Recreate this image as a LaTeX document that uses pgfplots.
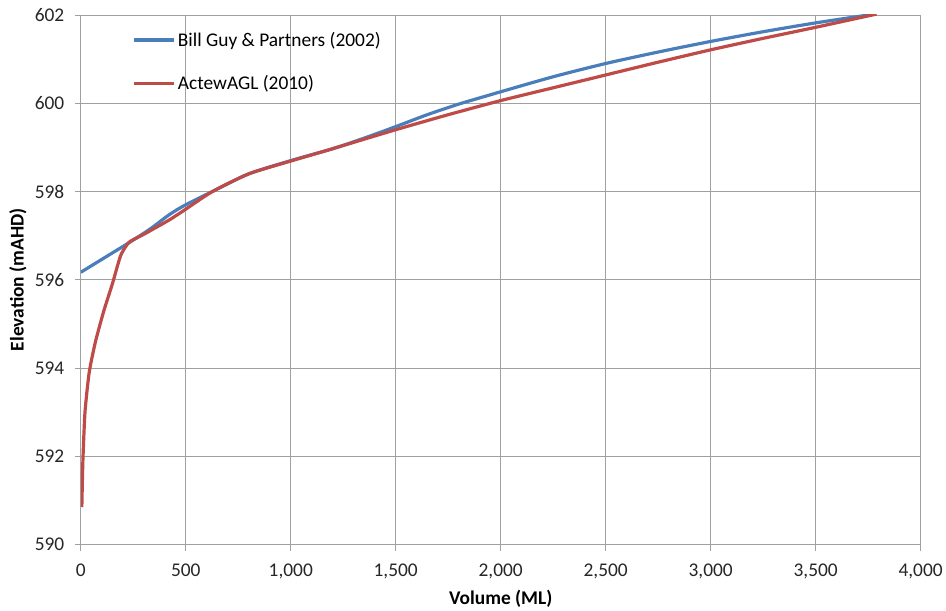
\documentclass[border=0pt]{standalone}
\usepackage{pgfplots}
\pgfplotsset{compat=1.18}
\usepackage{fontspec}
\setmainfont{Carlito}
\definecolor{bluel}{HTML}{4A7EBB}
\definecolor{redl}{HTML}{BE4B48}
\definecolor{gridc}{HTML}{A0A0A0}
\begin{document}
\begin{tikzpicture}
\begin{axis}[
  scale only axis, width=842bp, height=531bp,
  xmin=0, xmax=4000, ymin=590, ymax=602,
  xtick={0,500,...,4000}, ytick={590,592,...,602},
  grid=major, grid style={gridc, line width=0.9bp},
  axis line style={gridc, line width=0.9bp},
  tick style={gridc, line width=0.9bp},
  tick align=outside, major tick length=6bp,
  xtick pos=left, ytick pos=left,
  scaled ticks=false,
  /pgf/number format/1000 sep={,},
  /pgf/number format/assume math mode=true,
  ticklabel style={font=\fontsize{19.5}{22}\selectfont, text=black!85},
  yticklabel style={xshift=-7bp},
  xticklabel style={yshift=-10bp},
  every axis x label/.style={at={(axis description cs:0.5,-0.1017)}, anchor=center},
  every axis y label/.style={at={(axis description cs:-0.0748,0.5)}, anchor=center, rotate=90},
  label style={font=\fontsize{19.5}{22}\selectfont\bfseries},
  xlabel={Volume (ML)},
  ylabel={Elevation (mAHD)},
  legend style={draw=none, fill=none, at={(rel axis cs:0,1)}, anchor=north west,
    xshift=50bp, yshift=-13bp, row sep=24bp, font=\fontsize{19.5}{22}\selectfont,
    inner sep=2bp},
  legend cell align=left,
  legend image code/.code={\draw[#1] (0bp,0bp) -- (40bp,0bp);},
]
\addplot[bluel, line width=3.2bp, smooth, tension=0.45] coordinates {
(0,596.17) (120,596.52) (233,596.85) (330,597.15) (423,597.48) (500,597.70)
(627,598.0) (800,598.4) (1000,598.7) (1200,598.97) (1350,599.21) (1500,599.47)
(1650,599.74) (1800,599.98) (1950,600.19) (2000,600.26) (2250,600.6) (2500,600.9)
(2750,601.16) (3000,601.4) (3250,601.62) (3500,601.82) (3780,602.02)
};
\addlegendentry{Bill Guy \& Partners (2002)}
\addplot[redl, line width=3.2bp, smooth, tension=0.35] coordinates {
(5,590.85) (10,591.9) (20,593.0) (40,593.9) (70,594.6) (110,595.3)
(150,595.9) (190,596.55) (230,596.85) (300,597.03) (423,597.36) (500,597.6)
(627,598.0) (800,598.4) (1000,598.69) (1200,598.97) (1500,599.4)
(1750,599.74) (2000,600.06) (2250,600.35) (2500,600.64) (2750,600.93)
(3000,601.21) (3250,601.47) (3500,601.72) (3790,602.02)
};
\addlegendentry{ActewAGL (2010)}
\end{axis}
\path (current axis.south west) ++(-81bp,-66bp) coordinate (bbsw);
\path (current axis.north east) ++(23bp,15bp) coordinate (bbne);
\path (bbsw) rectangle (bbne);
\end{tikzpicture}
\end{document}
